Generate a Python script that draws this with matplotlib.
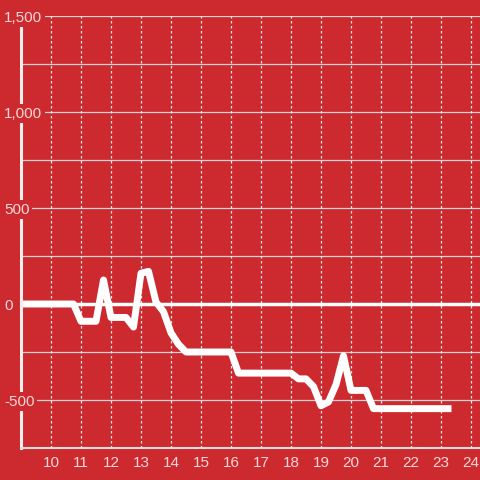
import matplotlib
matplotlib.use("Agg")
import matplotlib.pyplot as plt

# hour of day vs value
hours = [9.0, 10.75, 11.0, 11.5, 11.75, 12.0, 12.5, 12.75, 13.0, 13.25, 13.5,
         13.75, 14.0, 14.25, 14.5, 16.0, 16.25, 18.0, 18.25, 18.5, 18.75,
         19.0, 19.25, 19.5, 19.75, 20.0, 20.5, 20.75, 23.35]
values = [0, 0, -90, -90, 125, -70, -70, -120, 160, 170, 10,
          -40, -150, -210, -250, -250, -360, -360, -390, -390, -430,
          -530, -510, -420, -270, -450, -450, -545, -545]

x_ticks = list(range(10, 25))
y_ticks = [-500, 0, 500, 1000, 1500]
y_tick_labels = ["-500", "0", "500", "1,000", "1,500"]
y_grid = [-500, -250, 250, 500, 750, 1000, 1250, 1500]

bg = "#cc2a2f"
txt = "#f6d8d8"

plt.rcParams["font.family"] = ["Liberation Sans", "DejaVu Sans"]

fig = plt.figure(figsize=(4.8, 4.8), dpi=100, facecolor=bg)
ax = fig.add_axes([21 / 480, 32 / 480, 459 / 480, 432 / 480], facecolor=bg)

for y in y_grid:
    ax.axhline(y, color="#d4d4d4", lw=0.9, zorder=1)
for x in x_ticks:
    ax.axvline(x, color="#e8e8e8", lw=0.9, ls=(0, (2, 2)), zorder=1)
ax.axhline(0, color="white", lw=2.5, zorder=1.5)

ax.plot(hours, values, color="white", lw=5, solid_joinstyle="round",
        solid_capstyle="butt", zorder=2)

ax.set_xlim(9, 24.3)
ax.set_ylim(-750, 1500)

ax.set_xticks(x_ticks)
ax.set_yticks(y_ticks, y_tick_labels)
ax.tick_params(axis="both", length=0, colors=txt, labelsize=11)
ax.tick_params(axis="x", pad=6)
ax.tick_params(axis="y", pad=12)
for lab in ax.get_yticklabels():
    lab.set_ha("left")
    lab.set_bbox(dict(facecolor=bg, edgecolor="none", pad=1.5))
ax.yaxis.set_zorder(3)

for s in ["top", "right"]:
    ax.spines[s].set_visible(False)
ax.spines["left"].set_color("#eeeeee")
ax.spines["left"].set_linewidth(2.2)
ax.spines["bottom"].set_color("#dddddd")
ax.spines["bottom"].set_linewidth(1.5)

fig.savefig("out.png", dpi=100, facecolor=bg)
